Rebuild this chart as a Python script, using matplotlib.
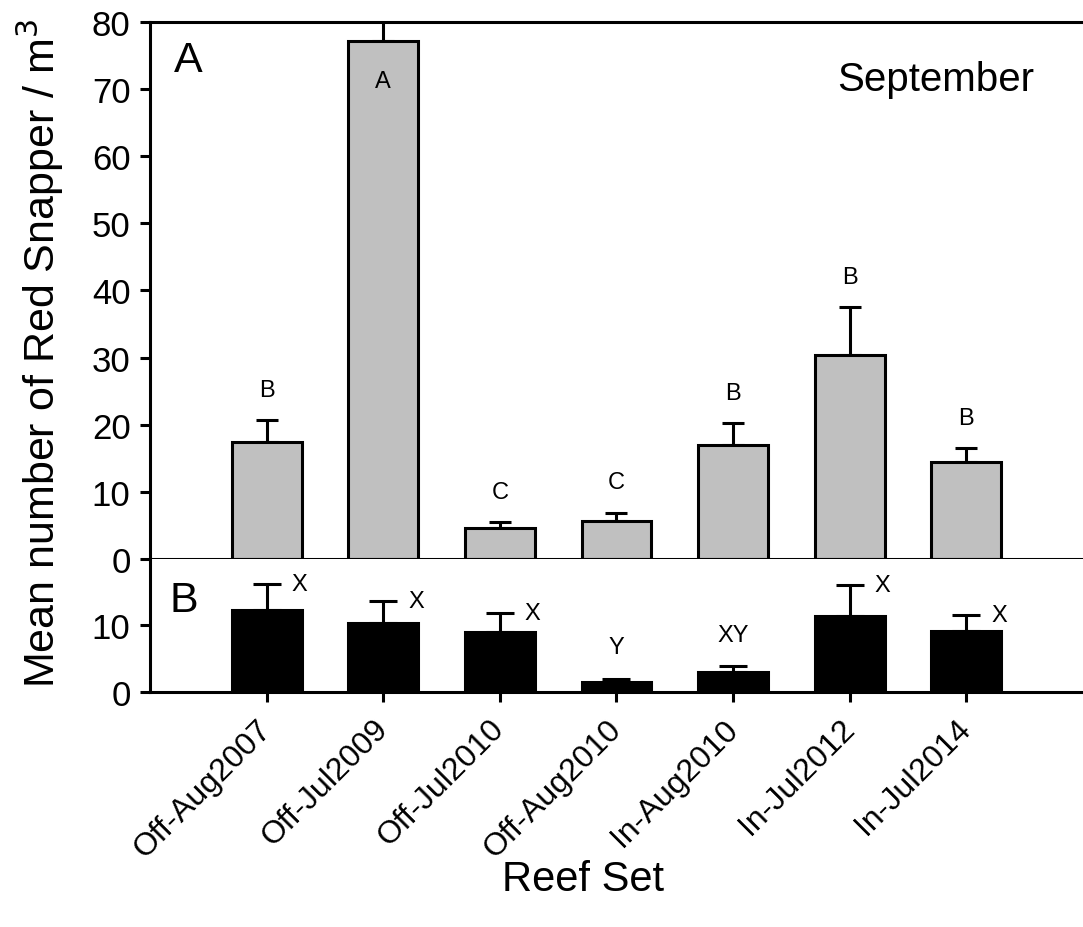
import numpy as np
import matplotlib
matplotlib.use('Agg')
import matplotlib.pyplot as plt

plt.rcParams['font.family'] = ['Liberation Sans', 'DejaVu Sans']

# data
reefs = ['Off-Aug2007', 'Off-Jul2009', 'Off-Jul2010', 'Off-Aug2010',
         'In-Aug2010', 'In-Jul2012', 'In-Jul2014']
sept_mean = [17.4, 77.2, 4.6, 5.7, 17.0, 30.4, 14.4]
sept_se = [3.3, 3.6, 0.9, 1.2, 3.3, 7.1, 2.1]
sept_letters = ['B', 'A', 'C', 'C', 'B', 'B', 'B']

b_mean = [12.3, 10.4, 9.0, 1.5, 3.0, 11.4, 9.2]
b_se = [3.9, 3.3, 2.9, 0.5, 0.9, 4.7, 2.4]
b_letters = ['X', 'X', 'X', 'Y', 'XY', 'X', 'X']

x = np.arange(len(reefs))

fig = plt.figure(figsize=(10.83, 9.28), dpi=100)
ax1 = fig.add_axes([0.1385, 0.3966, 0.8615, 0.5786])
ax2 = fig.add_axes([0.1385, 0.2532, 0.8615, 0.1434])

lw = 2.2

# panel A
ax1.bar(x, sept_mean, width=0.6, color='#c0c0c0', edgecolor='black', linewidth=lw, zorder=2)
ax1.errorbar(x, sept_mean, yerr=[np.zeros(len(x)), sept_se], fmt='none', ecolor='black',
             elinewidth=lw, capsize=8, capthick=lw, zorder=1)
for i, (m, s, t) in enumerate(zip(sept_mean, sept_se, sept_letters)):
    if m > 60:
        ax1.text(i, m - 6, t, ha='center', va='center', fontsize=17)
    else:
        ax1.text(i, m + s + 4.5, t, ha='center', va='center', fontsize=17)
ax1.set_ylim(0, 80)
ax1.set_yticks(range(0, 81, 10))
ax1.set_xlim(-1, 7.0)
ax1.set_xticks(x)
ax1.set_xticklabels([])
ax1.text(0.041, 0.93, 'A', transform=ax1.transAxes, fontsize=31, ha='center', va='center')
ax1.text(0.842, 0.894, 'September', transform=ax1.transAxes, fontsize=29, ha='center', va='center')

# panel B
ax2.bar(x, b_mean, width=0.6, color='black', edgecolor='black', linewidth=lw, zorder=2)
ax2.errorbar(x, b_mean, yerr=[np.zeros(len(x)), b_se], fmt='none', ecolor='black',
             elinewidth=lw, capsize=10, capthick=lw, zorder=1)
for i, (m, s, t) in enumerate(zip(b_mean, b_se, b_letters)):
    if m > 5:
        ax2.text(i + 0.28, m + s, t, ha='center', va='center', fontsize=17)
    else:
        ax2.text(i, m + s + 4.7, t, ha='center', va='center', fontsize=17)
ax2.set_ylim(0, 20)
ax2.set_yticks([0, 10])
ax2.set_xlim(-1, 7.0)
ax2.set_xticks(x)
ax2.set_xticklabels(reefs, rotation=45, ha='right', va='center', rotation_mode='anchor', fontsize=23)
ax2.text(0.036, 0.69, 'B', transform=ax2.transAxes, fontsize=31, ha='center', va='center')

for ax in (ax1, ax2):
    ax.spines['right'].set_visible(False)
    for sp in ax.spines.values():
        sp.set_linewidth(lw)
    ax.tick_params(direction='out', length=7, width=lw, labelsize=25, pad=7)
ax2.spines['top'].set_visible(False)
ax2.tick_params(axis='x', pad=16, labelsize=23)

fig.text(40 / 1083, 0.619, 'Mean number of Red Snapper / m$^3$', rotation=90,
         ha='center', va='center', fontsize=31)
fig.text(583 / 1083, 0.052, 'Reef Set', ha='center', va='center', fontsize=30)

fig.savefig('out.png', dpi=100)
